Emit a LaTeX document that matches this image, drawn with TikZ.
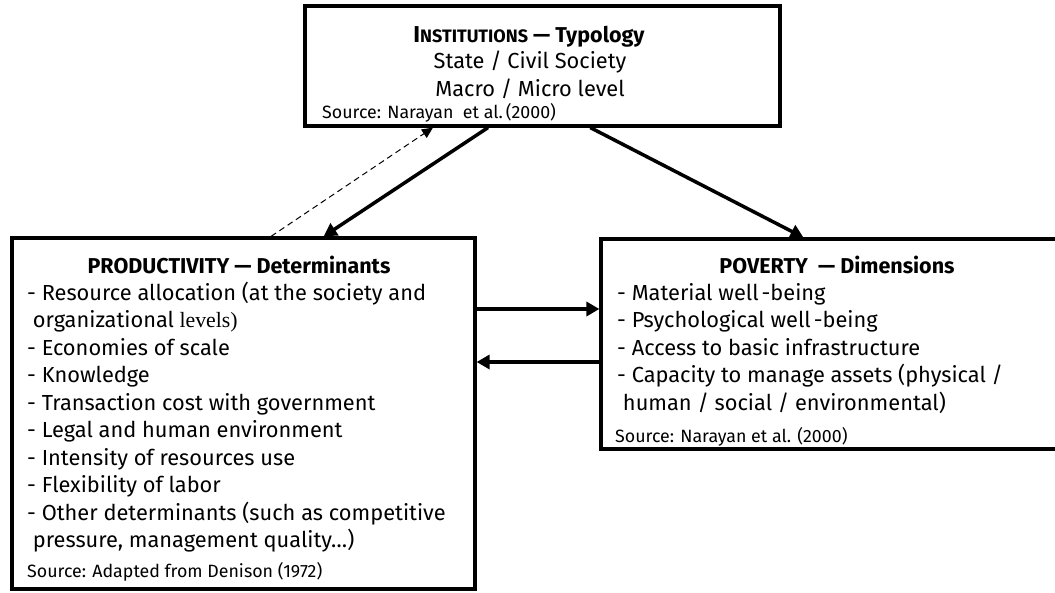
\documentclass[tikz,border=0pt]{standalone}
\usepackage{fontspec}
\setmainfont{Fira Sans}
\newfontfamily\timesfont{Liberation Serif}
\usetikzlibrary{arrows.meta, positioning, calc}

\begin{document}
\begin{tikzpicture}[x=1pt, y=-1pt,
  box/.style={draw, line width=3.2pt, inner sep=0pt},
  flow/.style={line width=3.5pt, -{Triangle[length=13pt, width=14pt]}},
  feedback/.style={dash pattern=on 6pt off 4pt, line width=1pt, -{Triangle[length=11pt, width=10pt]}},
  heading/.style={anchor=base, inner sep=0pt, font=\fontsize{21.5}{24}\selectfont\bfseries},
  item/.style={anchor=base west, inner sep=0pt, font=\fontsize{21.8}{24}\selectfont},
  source/.style={anchor=base west, inner sep=0pt, font=\fontsize{17.8}{20}\selectfont}]
  \useasboundingbox (0,0) rectangle (1055,592);
  % Boxes
  \node[box, minimum width=475pt, minimum height=120pt] (inst) at (542.5,66) {};
  \node[box, minimum width=463pt, minimum height=351pt] (prod) at (243.5,413.5) {};
  \node[box, minimum width=469pt, minimum height=210pt] (pov) at (835.5,344) {};
  % Institutions
  \node[heading] (insttitle) at (529,42) {{\fontsize{23}{24}\selectfont I}{\fontsize{18}{24}\selectfont NSTITUTIONS} --- Typology};
  \node[item, anchor=base] (state) at (530,68) {State / Civil Society};
  \node[item, anchor=base] (level) at (530,96) {Macro / Micro level};
  \node[source] (instsrc) at (322,118) {Source: Narayan~ et al.\,(2000)};
  % Productivity
  \node[heading] (prodtitle) at (239,273) {PRODUCTIVITY --- Determinants};
  \foreach \t [count=\i] in {
    {- Resource allocation (at the society and},
    {\ organizational{\timesfont\ levels)}},
    {- Economies of scale},
    {- Knowledge},
    {- Transaction cost with government},
    {- Legal and human environment},
    {- Intensity of resources use},
    {- Flexibility of labor},
    {- Other determinants (such as competitive},
    {\ pressure, management quality\dots)}}
    \node[item] (p\i) at (27,{300+27.5*(\i-1)}) {\t};
  \node[source] (prodsrc) at (27,577) {Source: Adapted from Denison (1972)};
  % Poverty
  \node[heading] (povtitle) at (837,273) {POVERTY \ --- Dimensions};
  \foreach \t [count=\i] in {
    {- Material well\kern3pt-being},
    {- Psychological well\kern3pt-being},
    {- Access to basic infrastructure},
    {- Capacity to manage assets (physical /},
    {\ human / social / environmental)}}
    \node[item] (d\i) at (617,{300+27.5*(\i-1)}) {\t};
  \node[source] (povsrc) at (615,442) {Source: Narayan et al. (2000)};
  % Links
  \draw[flow] ($(inst.south west)!0.386!(inst.south east)$) -- ($(prod.north west)!0.672!(prod.north east)$);
  \draw[feedback] ($(prod.north west)!0.559!(prod.north east)$) -- ($(inst.south west)!0.271!(inst.south east)$);
  \draw[flow] ($(inst.south west)!0.6!(inst.south east)$) -- ($(pov.north west)+(204,0)$);
  \draw[flow] (prod.east |- 0,309) -- (pov.west |- 0,309);
  \draw[flow] (pov.west |- 0,362) -- (prod.east |- 0,362);
\end{tikzpicture}
\end{document}
